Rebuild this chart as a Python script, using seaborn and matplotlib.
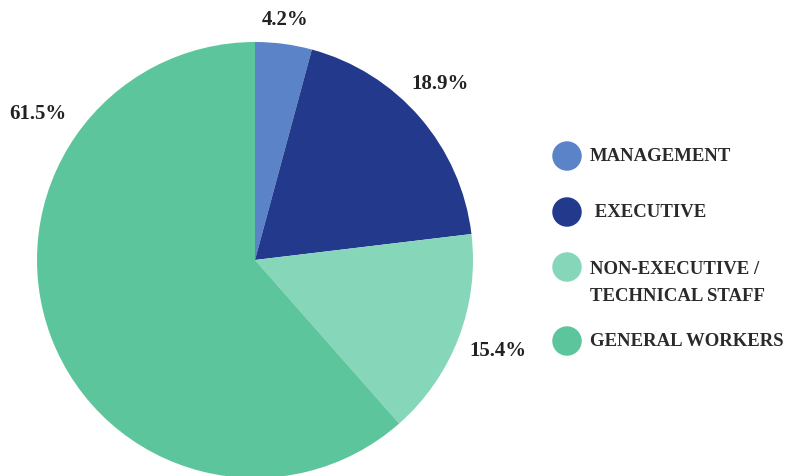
import matplotlib
matplotlib.use("Agg")
import matplotlib.pyplot as plt
import seaborn as sns

sns.set_theme(style="white")
plt.rcParams['font.family'] = ['Liberation Serif', 'DejaVu Serif']

categories = ["MANAGEMENT", " EXECUTIVE", "NON-EXECUTIVE /\nTECHNICAL STAFF", "GENERAL WORKERS"]
values = [4.2, 18.9, 15.4, 61.5]
labels = ["4.2%", "18.9%", "15.4%", "61.5%"]
colors = ["#5B84C8", "#233A8C", "#86D6BA", "#5CC59C"]

W, H = 801, 477
fig = plt.figure(figsize=(W / 100, H / 100), dpi=100)
fig.patch.set_facecolor("white")

R = 218
cx, cy = 255, 261
ax = fig.add_axes([(cx - R) / W, (H - cy - R) / H, 2 * R / W, 2 * R / H])
wedges, _ = ax.pie(values, colors=colors, startangle=90, counterclock=False,
                   radius=1, wedgeprops=dict(linewidth=0))
ax.set_xlim(-1, 1)
ax.set_ylim(-1, 1)
ax.set_aspect("auto")
ax.axis("off")

# overlay in pixel coordinates for labels and legend
ov = fig.add_axes([0, 0, 1, 1], facecolor="none")
ov.set_xlim(0, W)
ov.set_ylim(H, 0)
ov.axis("off")

label_pos = [(285, 20), (440, 84), (498, 351), (38, 114)]
for (x, y), t in zip(label_pos, labels):
    ov.text(x, y, t, ha="center", va="center", fontsize=15, fontweight="bold",
            color="#222222")

marker_y = [157, 213, 268, 342]
text_y = [157, 213, 283, 342]
for c, lab, my, ty in zip(colors, categories, marker_y, text_y):
    ov.scatter([567], [my], s=450, color=c, edgecolor="none")
    ov.text(590, ty, lab, ha="left", va="center", fontsize=13.5,
            fontweight="bold", color="#2a2a2a", linespacing=1.7)

fig.savefig("out.png", dpi=100, facecolor="white")
